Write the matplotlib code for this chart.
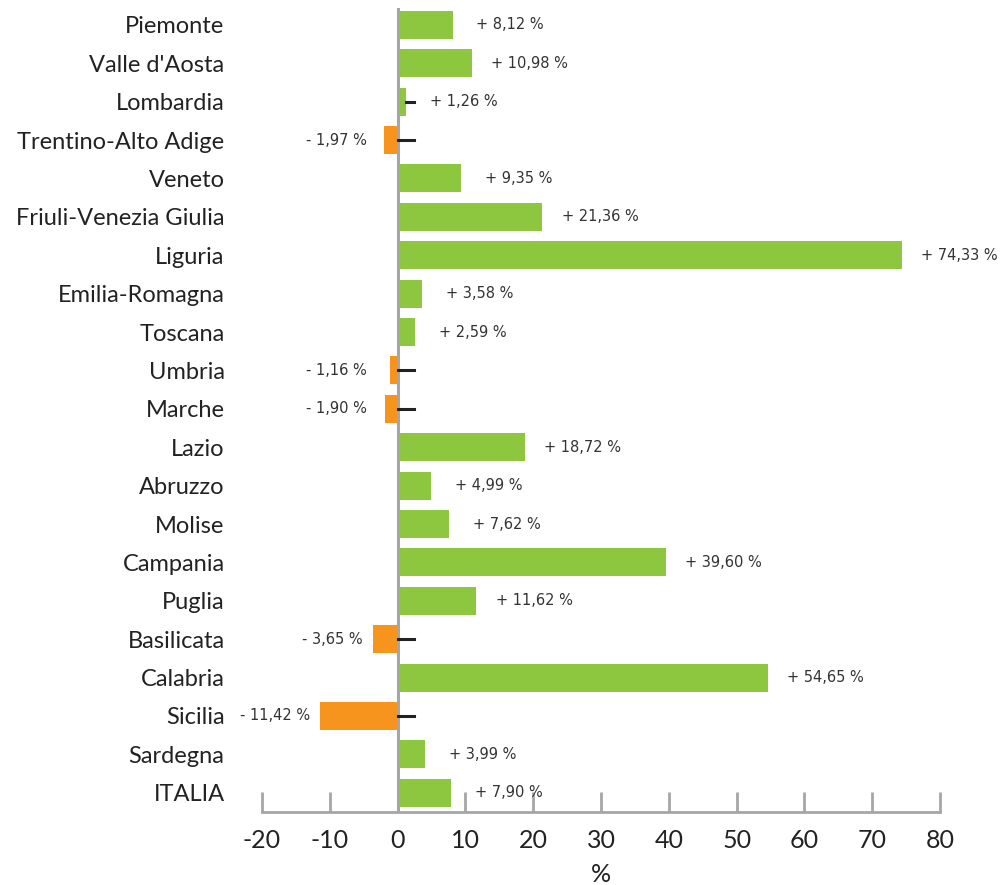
import matplotlib
matplotlib.use("Agg")
import matplotlib.pyplot as plt

regions = ["Piemonte", "Valle d'Aosta", "Lombardia", "Trentino-Alto Adige", "Veneto",
           "Friuli-Venezia Giulia", "Liguria", "Emilia-Romagna", "Toscana", "Umbria",
           "Marche", "Lazio", "Abruzzo", "Molise", "Campania", "Puglia", "Basilicata",
           "Calabria", "Sicilia", "Sardegna", "ITALIA"]
values = [8.12, 10.98, 1.26, -1.97, 9.35, 21.36, 74.33, 3.58, 2.59, -1.16,
          -1.90, 18.72, 4.99, 7.62, 39.60, 11.62, -3.65, 54.65, -11.42, 3.99, 7.90]
xticks = [-20, -10, 0, 10, 20, 30, 40, 50, 60, 70, 80]

green = "#8dc63f"
orange = "#f7941d"
grey = "#a6a6a6"
narrow = ["Lato", "DejaVu Sans"]

fig = plt.figure(figsize=(10.07, 8.85), dpi=100)
ax = fig.add_axes([0.2602, 0.0825, 0.6733, 0.9085])

ypos = list(range(len(regions)))
colors = [green if v >= 0 else orange for v in values]
ax.barh(ypos, values, height=0.73, color=colors, zorder=2)
ax.axvline(0, color=grey, lw=2.2, zorder=3)

for y, v in zip(ypos, values):
    # short black dash for the small / negative bars
    if v < 2.4:
        ax.plot([max(v, 0), 2.4], [y, y], color="#222222", lw=2.2, zorder=4)
    txt = ("+ " if v >= 0 else "- ") + f"{abs(v):.2f}".replace(".", ",") + " %"
    if v >= 0:
        ax.text(v + 8.5, y, txt, ha="center", va="center", fontsize=10.5, color="#333333")
    else:
        ax.text(min(-4.5, v - 1.5), y, txt, ha="right", va="center", fontsize=10.5, color="#333333")

ax.set_xlim(-20, 80)
ax.set_ylim(20.5, -0.44)
ax.set_xticks(xticks)
ax.set_xticklabels([str(t) for t in xticks], family=narrow, fontsize=18, color="#222222")
ax.set_yticks(ypos)
ax.set_yticklabels(regions, family=narrow, fontsize=17, color="#222222")
ax.tick_params(axis="y", length=0, pad=27)
ax.tick_params(axis="x", direction="in", length=14.5, width=2, color=grey, pad=12)

for s in ["top", "right", "left"]:
    ax.spines[s].set_visible(False)
ax.spines["bottom"].set_color(grey)
ax.spines["bottom"].set_linewidth(2)

ax.set_xlabel("%", family=narrow, fontsize=18, color="#222222", labelpad=8)

fig.savefig("out.png", dpi=100)
